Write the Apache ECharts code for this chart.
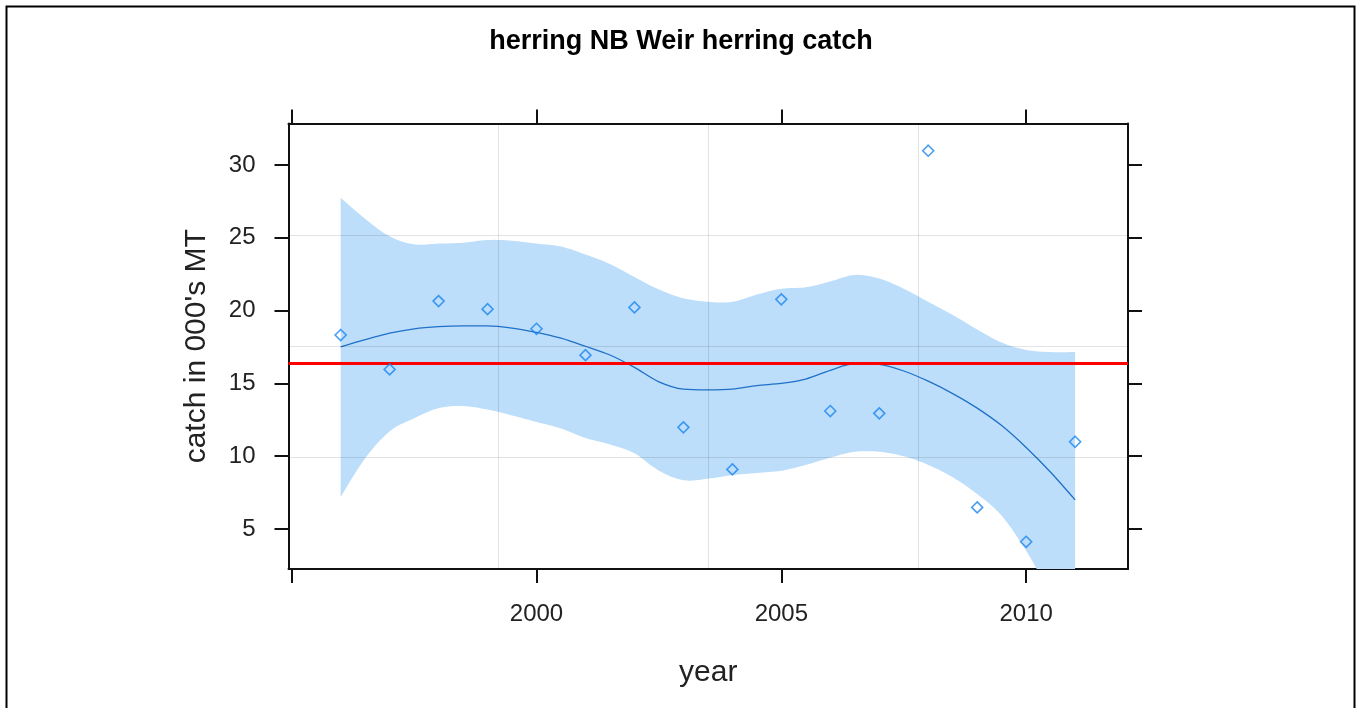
<!DOCTYPE html>
<html>
<head>
<meta charset="utf-8">
<script src="https://cdn.jsdelivr.net/npm/echarts@6/dist/echarts.min.js"></script>
<style>
html,body{margin:0;padding:0;background:#fff;}
#chart{width:1362px;height:708px;}
</style>
</head>
<body>
<div id="chart"></div>
<script>
// ---- data ----
const years = [1996,1997,1998,1999,2000,2001,2002,2003,2004,2005,2006,2007,2008,2009,2010,2011];
const catchValues = [18.32,15.96,20.65,20.10,18.75,16.94,20.22,11.98,9.09,20.77,13.10,12.94,30.98,6.48,4.12,10.99];

const fitYears = [1996,1996.5,1997,1997.5,1998,1998.5,1999,1999.5,2000,2000.5,2001,2001.5,2002,2002.5,2003,2003.5,2004,2004.5,2005,2005.5,2006,2006.5,2007,2007.5,2008,2008.5,2009,2009.5,2010,2010.5,2011];
const fitValues = [17.5,18.0,18.45,18.75,18.9,18.95,18.95,18.8,18.5,18.1,17.55,16.95,16.1,15.1,14.6,14.55,14.6,14.85,15.0,15.3,15.9,16.35,16.3,15.85,15.15,14.3,13.3,12.1,10.6,8.9,7.0];
const bandUpper = [27.75,26.3,25.1,24.55,24.6,24.66,24.85,24.8,24.6,24.4,23.85,23.2,22.3,21.45,20.85,20.6,20.6,21.1,21.5,21.6,22.0,22.45,22.2,21.5,20.6,19.7,18.7,17.8,17.3,17.15,17.15];
const bandLower = [7.2,9.85,11.7,12.6,13.3,13.44,13.2,12.8,12.35,11.9,11.25,10.8,10.2,9.0,8.35,8.45,8.7,8.85,9.0,9.4,9.9,10.3,10.3,10.0,9.4,8.55,7.4,5.9,3.5,0.5,-2.5];

const meanCatch = 16.37;
const xTicks = [1995,2000,2005,2010];
const xLabels = [2000,2005,2010];
const yTicks = [5,10,15,20,25,30];
const xRange = [1994.935, 2012.08];
const yRange = [2.25, 32.85];

const titleText = 'herring NB Weir herring catch';
const xName = 'year';
const yName = "catch in 000's MT";

// ---- build ----
const FONT = 'Liberation Sans, Arial, sans-serif';
const quarters = [1,2,3];
const xGrid = quarters.map(k => ({xAxis: xRange[0] + k*(xRange[1]-xRange[0])/4}));
const yGrid = quarters.map(k => ({yAxis: yRange[0] + k*(yRange[1]-yRange[0])/4}));

const pts = years.map((y,i)=>[y, catchValues[i]]);
const fit = fitYears.map((y,i)=>[y, fitValues[i]]);
const bandData = fitYears.map((y,i)=>[y, bandLower[i], bandUpper[i]]);

// Catmull-Rom through pixel points (drawing only)
function spline(p, steps){
  const out = [];
  for (let i=0;i<p.length-1;i++){
    const p0=p[Math.max(0,i-1)], p1=p[i], p2=p[i+1], p3=p[Math.min(p.length-1,i+2)];
    for (let s=0;s<steps;s++){
      const t=s/steps, t2=t*t, t3=t2*t;
      const f = (a,b,c,d)=>0.5*((2*b)+(-a+c)*t+(2*a-5*b+4*c-d)*t2+(-a+3*b-3*c+d)*t3);
      out.push([f(p0[0],p1[0],p2[0],p3[0]), f(p0[1],p1[1],p2[1],p3[1])]);
    }
  }
  out.push(p[p.length-1]);
  return out;
}

const axisLineStyle = {color:'#111', width:2};
function xAxisDef(pos, showLabels){
  return {
    type:'value', position:pos, min:xRange[0], max:xRange[1],
    axisLine:{show:true, onZero:false, lineStyle:axisLineStyle},
    axisTick:{show:true, inside:false, length:14, customValues:xTicks, lineStyle:{color:'#111', width:2}},
    axisLabel:{show:showLabels, customValues:xLabels, formatter:v=>String(v), color:'#222', fontSize:24, fontFamily:FONT, margin:33},
    splitLine:{show:false},
    name: showLabels ? xName : '', nameLocation:'middle', nameGap:89,
    nameTextStyle:{fontSize:30, color:'#222', fontFamily:FONT}
  };
}
function yAxisDef(pos, showLabels){
  return {
    type:'value', position:pos, min:yRange[0], max:yRange[1],
    axisLine:{show:true, onZero:false, lineStyle:axisLineStyle},
    axisTick:{show:true, inside:false, length:14, customValues:yTicks, lineStyle:{color:'#111', width:2}},
    axisLabel:{show:showLabels, customValues:yTicks, formatter:v=>String(v), color:'#222', fontSize:24, fontFamily:FONT, margin:33},
    splitLine:{show:false},
    name: showLabels ? yName : '', nameLocation:'middle', nameGap:77, nameRotate:90,
    nameTextStyle:{fontSize:30, color:'#222', fontFamily:FONT}
  };
}

const chart = echarts.init(document.getElementById('chart'), null, {renderer:'canvas'});
chart.setOption({
  animation:false,
  backgroundColor:'#fff',
  title:{text:titleText, left:'center', top:23, textStyle:{fontSize:27, fontWeight:'bold', color:'#000', fontFamily:FONT}},
  graphic:[{type:'rect', left:4, top:4, shape:{width:1348, height:712}, style:{fill:'none', stroke:'#000', lineWidth:2}, silent:true}],
  grid:{left:288.5, top:123.5, right:234, bottom:139, containLabel:false},
  xAxis:[xAxisDef('bottom', true), xAxisDef('top', false)],
  yAxis:[yAxisDef('left', true), yAxisDef('right', false)],
  series:[
    {type:'custom', name:'band', data:bandData, clip:true, z:1, silent:true,
     encode:{x:0, y:[1,2]},
     renderItem:function(params, api){
       if (params.dataIndex !== 0) return null;
       const up = bandData.map(d=>api.coord([d[0], d[2]]));
       const lo = bandData.map(d=>api.coord([d[0], d[1]]));
       const poly = spline(up, 8).concat(spline(lo, 8).reverse());
       return {type:'polygon', shape:{points:poly}, style:{fill:'#bddefa', stroke:null}};
     }},
    {type:'line', name:'grid', data:[], z:2, silent:true,
     markLine:{silent:true, symbol:'none', label:{show:false}, lineStyle:{color:'rgba(0,0,0,0.11)', width:1, type:'solid'},
       data: xGrid.concat(yGrid)}},
    {type:'line', name:'fit', data:fit, smooth:0.3, symbol:'none', lineStyle:{color:'#1f70c8', width:1.3}, z:4, silent:true},
    {type:'line', name:'mean', data:[], z:5, silent:true,
     markLine:{silent:true, symbol:'none', label:{show:false}, lineStyle:{color:'#ff0000', width:3, type:'solid'},
       data:[{yAxis:meanCatch}]}},
    {type:'scatter', name:'catch', data:pts, symbol:'path://M0,-1L1,0L0,1L-1,0Z', symbolSize:11,
     itemStyle:{color:'rgba(0,0,0,0)', borderColor:'#1a86f0', borderWidth:1.6}, z:6, silent:true}
  ]
});
</script>
</body>
</html>
